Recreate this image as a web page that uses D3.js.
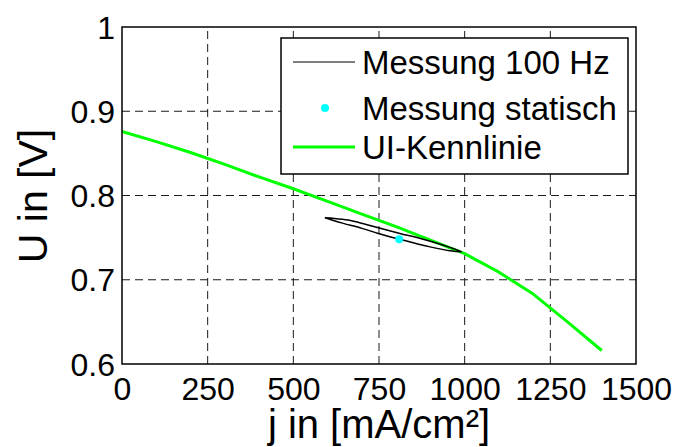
<!DOCTYPE html>
<html>
<head>
<meta charset="utf-8">
<script src="https://cdn.jsdelivr.net/npm/d3@7"></script>
<style>
  html, body { margin: 0; padding: 0; background: #fff; }
  svg { display: block; }
  text { font-family: "Liberation Sans", Arial, sans-serif; fill: #000; }
</style>
</head>
<body>
<svg id="chart" width="677" height="447"></svg>
<script>
// UI characteristic curve (current density vs. voltage)
const uiJ = [0, 100, 200, 300, 400, 500, 600, 700, 800, 900, 1000, 1100, 1200, 1300, 1400];
const uiU = [0.876, 0.864, 0.851, 0.837, 0.822, 0.808, 0.793, 0.778, 0.763, 0.747, 0.731, 0.709, 0.683, 0.650, 0.616];

// 100 Hz measurement loop: upper branch left to right, then lower branch back
const loopJ = [592, 620, 660, 705, 748, 811, 879, 957, 991, 975, 957, 899, 811, 748, 700, 646, 610, 592];
const loopU = [0.7735, 0.7728, 0.7708, 0.7665, 0.7617, 0.7550, 0.7480, 0.7384, 0.7332, 0.7336, 0.7344, 0.7390, 0.7480, 0.7550, 0.7610, 0.7669, 0.7712, 0.7735];

// static measurement point
const staticJ = [809];
const staticU = [0.748];

const xTicks = [0, 250, 500, 750, 1000, 1250, 1500];
const yTicks = [0.6, 0.7, 0.8, 0.9, 1];

const legendLabels = ["Messung 100 Hz", "Messung statisch", "UI-Kennlinie"];
const xLabel = "j in [mA/cm²]";
const yLabel = "U in [V]";

const svg = d3.select("#chart");
const plotL = 122, plotR = 636, plotT = 27, plotB = 364;

const x = d3.scaleLinear().domain([0, 1500]).range([plotL, plotR]);
const y = d3.scaleLinear().domain([0.6, 1]).range([plotB, plotT]);

// grid
const grid = svg.append("g").attr("stroke", "#1a1a1a").attr("stroke-width", 1)
  .attr("stroke-dasharray", "8,5").attr("fill", "none");
xTicks.slice(1, -1).forEach(t => {
  grid.append("line").attr("x1", x(t)).attr("x2", x(t)).attr("y1", plotB).attr("y2", plotT);
});
yTicks.slice(1, -1).forEach(t => {
  grid.append("line").attr("x1", plotL).attr("x2", plotR).attr("y1", y(t)).attr("y2", y(t));
});

// axes
const xAxis = d3.axisBottom(x).tickValues(xTicks).tickSize(0).tickPadding(13).tickFormat(d3.format("d"));
const yAxis = d3.axisLeft(y).tickValues(yTicks).tickSize(0).tickPadding(7).tickFormat(d => d === 1 ? "1" : d3.format(".1f")(d));

const gx = svg.append("g").attr("transform", `translate(0,${plotB})`).call(xAxis);
const gy = svg.append("g").attr("transform", `translate(${plotL},0)`).call(yAxis);
[gx, gy].forEach(g => {
  g.select(".domain").remove();
  g.selectAll("text").style("font-size", "32px").attr("fill", "#000");
});
gx.selectAll("text").attr("dy", "0.71em");
gy.selectAll("text").attr("dy", "0.35em");

// data lines
const uiLine = d3.line().x((d, i) => x(uiJ[i])).y((d, i) => y(uiU[i]));
svg.append("path").datum(uiJ).attr("d", uiLine)
  .attr("fill", "none").attr("stroke", "#00ff00").attr("stroke-width", 3)
  .attr("stroke-linejoin", "round");

const loopLine = d3.line().x((d, i) => x(loopJ[i])).y((d, i) => y(loopU[i])).curve(d3.curveCatmullRom);
svg.append("path").datum(loopJ).attr("d", loopLine)
  .attr("fill", "none").attr("stroke", "#000").attr("stroke-width", 1.5);

svg.selectAll("circle.static").data(staticJ).enter().append("circle")
  .attr("class", "static")
  .attr("cx", d => x(d)).attr("cy", (d, i) => y(staticU[i]))
  .attr("r", 4).attr("fill", "#00ffff");

// plot box
svg.append("rect").attr("x", plotL).attr("y", plotT).attr("width", plotR - plotL).attr("height", plotB - plotT)
  .attr("fill", "none").attr("stroke", "#000").attr("stroke-width", 1.5);

// legend
const lg = svg.append("g");
lg.append("rect").attr("x", 281).attr("y", 38).attr("width", 347).attr("height", 136)
  .attr("fill", "#fff").attr("stroke", "#000").attr("stroke-width", 1.5);
const rowY = [62, 108, 147];
lg.append("line").attr("x1", 293).attr("x2", 355).attr("y1", rowY[0]).attr("y2", rowY[0])
  .attr("stroke", "#000").attr("stroke-width", 1);
lg.append("circle").attr("cx", 325).attr("cy", rowY[1]).attr("r", 4).attr("fill", "#00ffff");
lg.append("line").attr("x1", 293).attr("x2", 355).attr("y1", rowY[2]).attr("y2", rowY[2])
  .attr("stroke", "#00ff00").attr("stroke-width", 3);
legendLabels.forEach((l, i) => {
  lg.append("text").attr("x", 362).attr("y", rowY[i]).attr("dy", "0.36em")
    .style("font-size", "33px").text(l);
});

// axis titles
svg.append("text").attr("x", (plotL + plotR) / 2).attr("y", 438)
  .attr("text-anchor", "middle").style("font-size", "40px").text(xLabel);
svg.append("text").attr("transform", `translate(47,196) rotate(-90)`)
  .attr("text-anchor", "middle").style("font-size", "41px").text(yLabel);
</script>
</body>
</html>
